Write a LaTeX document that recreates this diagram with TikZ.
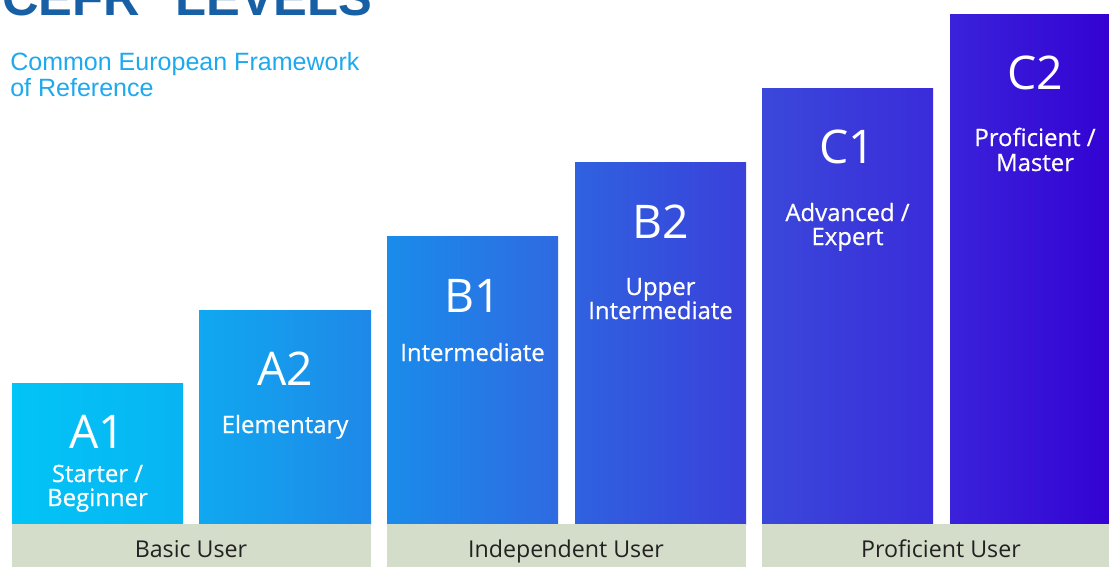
\documentclass[tikz,border=0pt]{standalone}
\usepackage{fontspec}
\setmainfont{Open Sans}
\newfontfamily\headfont{Liberation Sans}
\newfontfamily\medfont[FakeBold=0.6]{Open Sans}
\usetikzlibrary{positioning}

\definecolor{titleblue}{HTML}{1760A6}
\definecolor{subblue}{HTML}{1EA9EE}
\definecolor{bandgreen}{HTML}{D4DCCA}
\definecolor{bandtext}{HTML}{222222}
\definecolor{aoneL}{HTML}{02C4F6}
\definecolor{aoneR}{HTML}{08B4F2}
\definecolor{atwoL}{HTML}{10A8F0}
\definecolor{atwoR}{HTML}{1F88E8}
\definecolor{boneL}{HTML}{1A8CEA}
\definecolor{boneR}{HTML}{2F6AE2}
\definecolor{btwoL}{HTML}{2F62E0}
\definecolor{btwoR}{HTML}{3A40DA}
\definecolor{coneL}{HTML}{3A48DA}
\definecolor{coneR}{HTML}{3A2CDA}
\definecolor{ctwoL}{HTML}{3A22DA}
\definecolor{ctwoR}{HTML}{3300D2}

\tikzset{
  lvl/.style={text=white, font=\fontsize{33}{36}\selectfont, anchor=base, inner sep=0pt},
  desc/.style={text=white, font=\medfont\fontsize{17}{20}\selectfont, anchor=base, inner sep=0pt},
  grp/.style={text=bandtext, font=\fontsize{16.5}{20}\selectfont, anchor=base, inner sep=0pt},
}

\begin{document}
\begin{tikzpicture}[x=0.025cm, y=-0.025cm]
\useasboundingbox (0,0) rectangle (1109,567);
\fill[white] (0,0) rectangle (1109,567);

% title, cut off at the top edge
\node[anchor=base west, inner sep=0pt, text=titleblue,
  font=\headfont\bfseries\fontsize{36}{40}\selectfont] (title) at (2,15) {CEFR\hspace{0.7em}LEVELS};
\node[anchor=base west, inner sep=0pt, text=subblue,
  font=\headfont\fontsize{17.8}{20}\selectfont] (sub1) at (10,70) {Common European Framework};
\node[anchor=base west, inner sep=0pt, text=subblue,
  font=\headfont\fontsize{17.8}{20}\selectfont] (sub2) at (10,96) {of Reference};

% bars
\shade[left color=aoneL, right color=aoneR] (12,383) rectangle (183,524);
\shade[left color=atwoL, right color=atwoR] (199,310) rectangle (371,524);
\shade[left color=boneL, right color=boneR] (387,236) rectangle (558,524);
\shade[left color=btwoL, right color=btwoR] (575,162) rectangle (746,524);
\shade[left color=coneL, right color=coneR] (762,88) rectangle (933,524);
\shade[left color=ctwoL, right color=ctwoR] (950,14) rectangle (1121,524);

% bands
\fill[bandgreen] (12,524) rectangle (371,567);
\fill[bandgreen] (387,524) rectangle (746,567);
\fill[bandgreen] (762,524) rectangle (1121,567);

\node[lvl] (a1) at (97.5,448) {A1};
\node[desc] (a1s) at (97.5,482) {Starter /};
\node[desc] (a1b) at (97.5,506) {Beginner};

\node[lvl] (a2) at (285,385) {A2};
\node[desc] (a2e) at (285,433) {Elementary};

\node[lvl] (b1) at (472.5,312) {B1};
\node[desc] (b1i) at (472.5,361) {Intermediate};

\node[lvl] (b2) at (660.5,238) {B2};
\node[desc] (b2u) at (660.5,295) {Upper};
\node[desc] (b2i) at (660.5,319) {Intermediate};

\node[lvl] (c1) at (847.5,163) {C1};
\node[desc] (c1a) at (847.5,221) {Advanced /};
\node[desc] (c1e) at (847.5,245) {Expert};

\node[lvl] (c2) at (1035,89) {C2};
\node[desc] (c2p) at (1035,146) {Proficient /};
\node[desc] (c2m) at (1035,171) {Master};

\node[grp] (basic) at (191,557) {Basic User};
\node[grp] (indep) at (566,557) {Independent User};
\node[grp] (prof) at (941,557) {Proficient User};
\end{tikzpicture}
\end{document}
